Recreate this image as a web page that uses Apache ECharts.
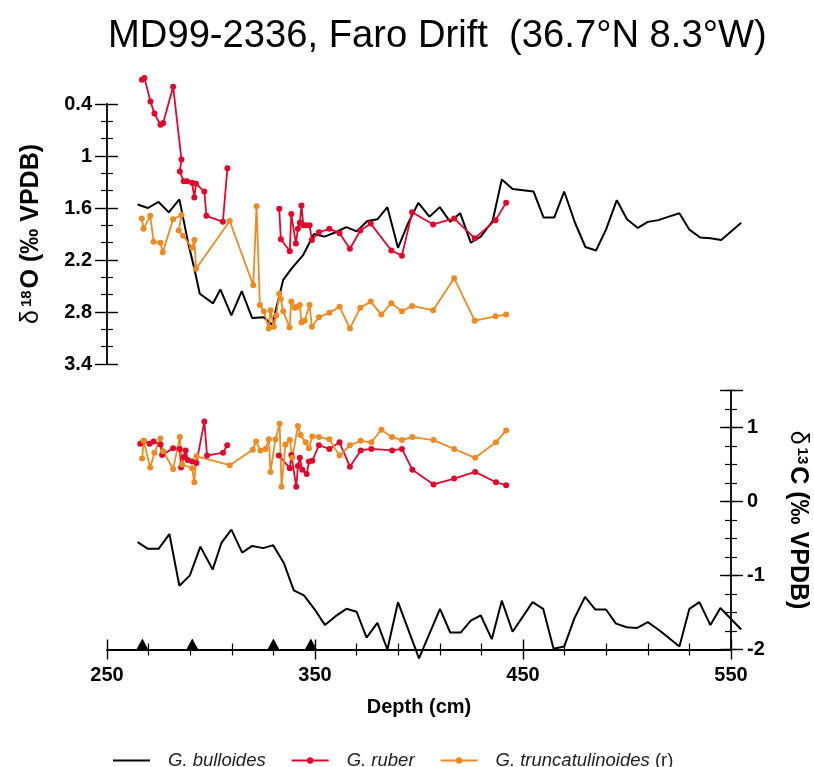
<!DOCTYPE html>
<html>
<head>
<meta charset="utf-8">
<script src="https://cdn.jsdelivr.net/npm/echarts@6/dist/echarts.min.js"></script>
<style>html,body{margin:0;padding:0;background:#fff}#c{width:814px;height:767px}</style>
</head>
<body>
<div id="c"></div>
<script>
// ---------- DATA ----------
const xTicks = [250, 350, 450, 550];
const d18OTicks = [0.4, 1.0, 1.6, 2.2, 2.8, 3.4];
const d13CTicks = [-2, -1, 0, 1];
const seriesNames = ['G. bulloides', 'G. ruber', 'G. truncatulinoides (r)'];

// delta 18O (top panel) : [depth cm, permil]
const bulloidesO = [[264.7,1.56],[269.7,1.60],[274.8,1.53],[279.7,1.65],[284.8,1.50],[289.0,2.00],[292.0,2.30],[294.6,2.59],[301.0,2.70],[304.5,2.54],[309.8,2.84],[314.8,2.56],[319.8,2.87],[325.4,2.86],[329.4,2.95],[334.7,2.43],[339.0,2.29],[344.4,2.14],[349.5,1.90],[354.6,1.93],[359.9,1.88],[365.1,1.82],[370.0,1.87],[375.2,1.75],[380.0,1.73],[384.8,1.59],[389.9,2.06],[394.9,1.77],[399.7,1.54],[405.0,1.70],[410.0,1.59],[415.0,1.76],[419.8,1.66],[424.9,2.00],[429.7,1.93],[435.4,1.75],[439.8,1.27],[445.0,1.38],[455.1,1.41],[459.9,1.71],[465.0,1.71],[469.8,1.41],[475.0,1.77],[480.0,2.05],[485.1,2.09],[489.9,1.85],[495.1,1.51],[500.0,1.73],[505.2,1.83],[510.0,1.76],[515.1,1.74],[520.1,1.70],[525.2,1.66],[530.0,1.85],[535.2,1.94],[540.1,1.95],[545.3,1.97],[554.9,1.77]];
const ruberO = [[266.8,0.12],[268.0,0.10],[270.9,0.37],[272.8,0.51],[275.7,0.64],[277.0,0.62],[281.8,0.20],[285.8,1.04],[285.0,1.18],[286.9,1.29],[288.5,1.29],[290.9,1.31],[292.0,1.48],[292.8,1.32],[296.8,1.41],[297.8,1.69],[305.7,1.76],[307.9,1.14],[320.0,null],[332.8,1.61],[333.6,1.96],[337.9,2.10],[338.6,1.67],[340.8,2.01],[341.8,1.84],[342.7,1.77],[343.5,1.57],[344.4,1.80],[345.6,1.80],[347.4,1.80],[348.5,1.97],[351.9,1.88],[356.9,1.84],[361.8,1.89],[366.8,2.07],[371.8,1.86],[376.8,1.78],[386.7,2.09],[391.8,2.15],[396.7,1.65],[406.8,1.79],[416.9,1.72],[426.8,1.95],[436.8,1.74],[441.9,1.54]];
const truncO = [[266.7,1.72],[267.6,1.84],[270.8,1.69],[272.4,1.99],[275.7,2.00],[276.8,2.11],[281.8,1.73],[285.8,1.68],[284.5,1.86],[286.6,1.92],[290.9,2.06],[292.0,1.97],[292.8,2.30],[309.0,1.75],[320.3,2.49],[321.9,1.58],[323.5,2.72],[325.4,2.79],[327.8,2.99],[328.6,2.78],[330.2,2.97],[331.4,2.84],[332.8,2.59],[333.6,2.65],[334.7,2.79],[337.8,2.98],[338.6,2.68],[340.3,2.75],[341.5,2.74],[342.7,2.72],[343.5,2.92],[345.0,2.90],[347.4,2.72],[348.5,2.97],[351.9,2.86],[356.9,2.81],[361.8,2.74],[366.8,2.99],[371.8,2.75],[376.8,2.68],[381.9,2.83],[386.7,2.70],[391.8,2.79],[396.7,2.73],[406.8,2.78],[416.9,2.41],[426.8,2.90],[436.8,2.85],[441.9,2.83]];

// delta 13C (bottom panel) : [depth cm, permil]
const bulloidesC = [[264.7,-0.55],[269.7,-0.64],[274.8,-0.64],[280.0,-0.44],[284.8,-1.14],[289.8,-1.00],[294.9,-0.61],[300.8,-0.92],[305.0,-0.56],[309.8,-0.38],[315.0,-0.69],[319.8,-0.60],[325.1,-0.63],[329.9,-0.59],[335.0,-0.83],[339.8,-1.20],[344.7,-1.27],[349.9,-1.46],[354.8,-1.67],[359.9,-1.55],[365.1,-1.45],[370.0,-1.49],[374.8,-1.84],[380.0,-1.64],[384.8,-2.00],[389.9,-1.36],[400.0,-2.12],[410.1,-1.45],[415.0,-1.77],[420.1,-1.77],[424.9,-1.61],[429.7,-1.54],[435.0,-1.86],[439.8,-1.34],[445.0,-1.76],[454.6,-1.36],[459.7,-1.45],[464.7,-1.99],[469.8,-1.96],[474.7,-1.58],[479.8,-1.29],[484.8,-1.46],[489.9,-1.46],[494.7,-1.65],[499.9,-1.70],[504.7,-1.71],[510.0,-1.63],[515.0,-1.73],[520.0,-1.84],[525.2,-1.96],[530.0,-1.45],[534.8,-1.36],[540.1,-1.67],[544.9,-1.44],[554.9,-1.73]];
const ruberC = [[266.0,0.78],[267.6,0.82],[270.5,0.78],[272.4,0.81],[275.7,0.77],[276.5,0.63],[281.8,0.72],[285.0,0.71],[285.6,0.46],[286.9,0.60],[287.8,0.69],[288.8,0.56],[290.9,0.54],[293.0,0.52],[296.8,1.08],[298.1,0.62],[305.8,0.66],[307.8,0.76],[320.0,null],[332.6,0.62],[337.9,0.45],[338.6,0.63],[341.0,0.20],[341.8,0.48],[342.7,0.59],[343.9,0.43],[346.0,0.37],[347.1,0.54],[348.7,0.55],[351.9,0.76],[356.9,0.71],[361.8,0.80],[366.8,0.47],[372.0,0.69],[377.1,0.71],[387.1,0.69],[391.8,0.71],[396.8,0.43],[407.0,0.23],[416.9,0.31],[427.0,0.40],[437.0,0.26],[441.9,0.22]];
const truncC = [[266.9,0.58],[267.6,0.82],[270.8,0.46],[272.8,0.66],[275.7,0.85],[277.0,0.68],[281.8,0.44],[285.0,0.87],[286.1,0.50],[290.9,0.45],[292.0,0.26],[293.0,0.61],[309.0,0.49],[320.1,0.70],[321.7,0.81],[323.8,0.69],[326.2,0.71],[327.8,0.84],[328.6,0.40],[331.0,0.84],[333.0,1.05],[333.9,0.20],[335.8,0.77],[337.9,0.83],[339.1,0.59],[341.8,1.02],[343.1,0.90],[345.5,0.80],[347.1,0.72],[348.7,0.88],[351.9,0.87],[356.9,0.84],[361.8,0.62],[366.8,0.76],[372.0,0.82],[377.1,0.80],[381.9,0.97],[387.0,0.87],[391.8,0.83],[396.8,0.87],[407.0,0.83],[416.9,0.71],[427.0,0.59],[437.0,0.80],[441.9,0.96]];

// age-control markers on the depth axis
const markerDepths = [267, 291, 330, 348];

// ---------- STYLE ----------
const FONT = 'Liberation Sans, Arial, Helvetica, sans-serif';
const RED = '#e3062c';
const ORANGE = '#ef8a20';
const BLACK = '#000';
const DATA_XMAX = 556; // data region slightly beyond the drawn 550 axis end

const chart = echarts.init(document.getElementById('c'), null, {renderer: 'canvas'});

const tickLbl = {fontSize: 20, fontWeight: 'bold', color: '#000', fontFamily: FONT};
function yAx(grid, pos, inside, interval, min, max, opts) {
  return Object.assign({
    type: 'value', gridIndex: grid, position: pos, min: min, max: max, interval: interval,
    axisLine: {show: false, onZero: false},
    axisTick: {show: true, inside: inside, length: 11, lineStyle: {color: BLACK, width: 1.4}},
    axisLabel: {show: false},
    splitLine: {show: false}
  }, opts || {});
}
const nameRich = {
  d: {fontSize: 25, fontWeight: 'normal', color: '#000', fontFamily: FONT},
  s: {fontSize: 15, fontWeight: 'bold', color: '#000', fontFamily: FONT, padding: [0, 2, 10, 3]},
  b: {fontSize: 25, fontWeight: 'bold', color: '#000', fontFamily: FONT}
};

// grid geometry: 250 cm at x=107, 550 cm at x=731
const pxPerCm = (731 - 107) / 300;
const dataRight = 814 - 107 - pxPerCm * (DATA_XMAX - 250);

const option = {
  animation: false,
  backgroundColor: '#fff',
  textStyle: {fontFamily: FONT},
  title: {
    text: 'MD99-2336, Faro Drift  (36.7°N 8.3°W)',
    left: 103, top: 12,
    textStyle: {fontSize: 38.2, fontWeight: 'normal', color: '#000', fontFamily: FONT}
  },
  grid: [
    {left: 107, right: dataRight, top: 104, height: 260, outerBoundsMode: 'none', containLabel: false},
    {left: 107, right: dataRight, top: 390.5, height: 259, outerBoundsMode: 'none', containLabel: false},
    {left: 107, right: 83, top: 390.5, height: 259, outerBoundsMode: 'none', containLabel: false}
  ],
  legend: {
    data: [
      {name: seriesNames[0], itemStyle: {color: 'rgba(0,0,0,0)', borderWidth: 0, opacity: 0}},
      {name: seriesNames[1]},
      {name: seriesNames[2]}
    ],
    left: 112, top: 751, padding: 0,
    itemWidth: 37, itemHeight: 8, itemGap: 25,
    formatter: function (n) {
      if (n === 'G. truncatulinoides (r)') return '{s|}{i|G. truncatulinoides} {n|(r)}';
      return '{s|}{i|' + n + '}';
    },
    textStyle: {
      fontSize: 18.5, color: '#222', fontFamily: FONT,
      rich: {
        s: {width: 13},
        i: {fontSize: 18.5, fontStyle: 'italic', color: '#222', fontFamily: FONT},
        n: {fontSize: 18.5, fontStyle: 'normal', color: '#222', fontFamily: FONT}
      }
    }
  },
  xAxis: [
    {type: 'value', gridIndex: 0, min: 250, max: DATA_XMAX, show: false},
    {type: 'value', gridIndex: 1, min: 250, max: DATA_XMAX, show: false},
    {
      type: 'value', gridIndex: 2, min: 250, max: 550, interval: 100, position: 'bottom',
      axisLine: {show: true, onZero: false, lineStyle: {color: BLACK, width: 1.8}},
      axisTick: {show: true, inside: false, length: 10, lineStyle: {color: BLACK, width: 1.4}},
      minorTick: {show: true, splitNumber: 5, length: 6, lineStyle: {color: BLACK, width: 1.2}},
      axisLabel: Object.assign({margin: 16}, tickLbl),
      splitLine: {show: false},
      name: 'Depth (cm)', nameLocation: 'middle', nameGap: 48,
      nameTextStyle: {fontSize: 20, fontWeight: 'bold', color: '#000', fontFamily: FONT}
    },
    {
      type: 'value', gridIndex: 2, min: 250, max: 550, interval: 100, position: 'bottom',
      axisLine: {show: false, onZero: false},
      axisTick: {show: true, inside: true, length: 10, lineStyle: {color: BLACK, width: 1.4}},
      minorTick: {show: true, splitNumber: 5, length: 6, lineStyle: {color: BLACK, width: 1.2}},
      axisLabel: {show: false}, splitLine: {show: false}
    }
  ],
  yAxis: [
    yAx(0, 'left', false, 0.6, 0.4, 3.4, {
      inverse: true,
      axisLine: {show: true, onZero: false, lineStyle: {color: BLACK, width: 1.8}},
      axisTick: {show: true, inside: false, length: 12, lineStyle: {color: BLACK, width: 1.4}},
      minorTick: {show: true, splitNumber: 3, length: 6, lineStyle: {color: BLACK, width: 1.2}},
      axisLabel: Object.assign({show: true, margin: 15, formatter: function (v) { return String(Math.round(v * 10) / 10); }}, tickLbl),
      name: '{d|δ}{s|18}{b|O (‰ VPDB)}', nameLocation: 'middle', nameGap: 63, nameRotate: 90,
      nameTextStyle: {rich: nameRich}
    }),
    yAx(0, 'left', true, 0.6, 0.4, 3.4, {
      inverse: true,
      axisTick: {show: true, inside: true, length: 11, lineStyle: {color: BLACK, width: 1.4}},
      minorTick: {show: true, splitNumber: 3, length: 6, lineStyle: {color: BLACK, width: 1.2}}
    }),
    {type: 'value', gridIndex: 1, min: -2, max: 1.5, show: false},
    yAx(2, 'right', false, 1, -2, 1.5, {
      axisLine: {show: true, onZero: false, lineStyle: {color: BLACK, width: 1.8}},
      axisTick: {show: true, inside: false, length: 12, lineStyle: {color: BLACK, width: 1.4}},
      axisLabel: Object.assign({show: true, margin: 16, formatter: function (v) { return Math.abs(v - Math.round(v)) < 1e-6 ? String(Math.round(v)) : ''; }}, tickLbl),
      name: '{d|δ}{s|13}{b|C (‰ VPDB)}', nameLocation: 'middle', nameGap: 54, nameRotate: -90,
      nameTextStyle: {rich: nameRich}
    }),
    yAx(2, 'right', true, 1, -2, 1.5, {
      axisTick: {show: true, inside: true, length: 11, lineStyle: {color: BLACK, width: 1.4}}
    }),
    yAx(2, 'right', false, 0.25, -2, 1.5, {
      axisTick: {show: true, inside: false, length: 6, lineStyle: {color: BLACK, width: 1.2}}
    }),
    yAx(2, 'right', true, 0.25, -2, 1.5, {
      axisTick: {show: true, inside: true, length: 6, lineStyle: {color: BLACK, width: 1.2}}
    })
  ],
  series: [
    {name: seriesNames[0], type: 'line', xAxisIndex: 0, yAxisIndex: 0, data: bulloidesO, clip: false,
      showSymbol: false, symbol: 'none', color: BLACK, lineStyle: {color: BLACK, width: 2}, z: 3},
    {name: seriesNames[1], type: 'line', xAxisIndex: 0, yAxisIndex: 0, data: ruberO, clip: false,
      symbol: 'circle', symbolSize: 6, color: RED, lineStyle: {color: RED, width: 1.8}, itemStyle: {color: RED}, connectNulls: false, z: 4},
    {name: seriesNames[2], type: 'line', xAxisIndex: 0, yAxisIndex: 0, data: truncO, clip: false,
      symbol: 'circle', symbolSize: 6, color: ORANGE, lineStyle: {color: ORANGE, width: 1.8}, itemStyle: {color: ORANGE}, z: 4},
    {name: seriesNames[0], type: 'line', xAxisIndex: 1, yAxisIndex: 2, data: bulloidesC, clip: false,
      showSymbol: false, symbol: 'none', color: BLACK, lineStyle: {color: BLACK, width: 2}, z: 3},
    {name: seriesNames[1], type: 'line', xAxisIndex: 1, yAxisIndex: 2, data: ruberC, clip: false,
      symbol: 'circle', symbolSize: 6, color: RED, lineStyle: {color: RED, width: 1.8}, itemStyle: {color: RED}, connectNulls: false, z: 4},
    {name: seriesNames[2], type: 'line', xAxisIndex: 1, yAxisIndex: 2, data: truncC, clip: false,
      symbol: 'circle', symbolSize: 6, color: ORANGE, lineStyle: {color: ORANGE, width: 1.8}, itemStyle: {color: ORANGE}, z: 4},
    {name: 'markers', type: 'scatter', xAxisIndex: 1, yAxisIndex: 2,
      data: markerDepths.map(function (d) { return [d, -2]; }),
      symbol: 'triangle', symbolSize: [12, 11], symbolOffset: [0, -5.5], clip: false,
      itemStyle: {color: BLACK, opacity: 1}, z: 5}
  ]
};
chart.setOption(option);
</script>
</body>
</html>
